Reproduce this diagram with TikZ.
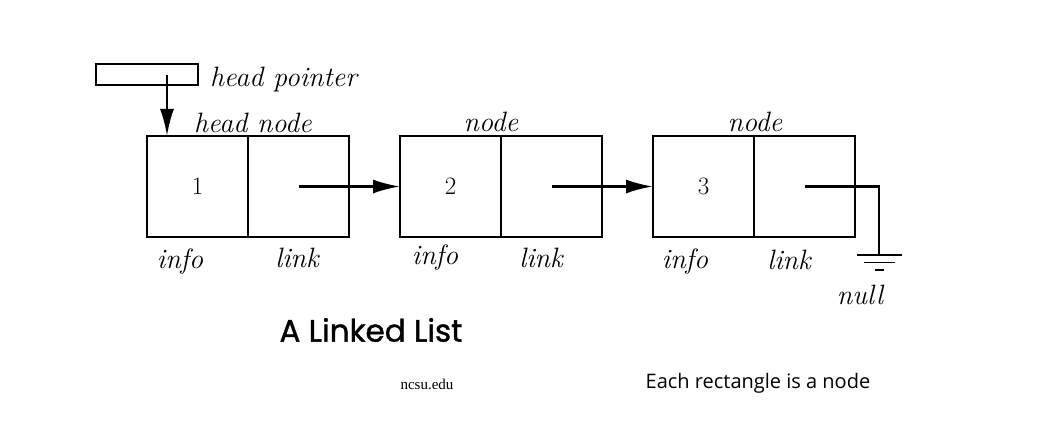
\documentclass[tikz,border=0pt]{standalone}
\usepackage{fontspec}
\newfontfamily\titlefont{Poppins}[FakeBold=1.2]
\newfontfamily\notefont{Open Sans}
\newfontfamily\srcfont{Liberation Serif}
\usepackage{tikz}
\usetikzlibrary{positioning, arrows.meta}

\tikzset{
  cell/.style={draw, line width=1.1pt, minimum width=101pt, minimum height=101pt, inner sep=0pt, outer sep=0pt, font=\fontsize{25}{25}\selectfont},
  lbl/.style={font=\fontsize{28}{28}\selectfont\itshape, inner sep=0pt},
  ptr/.style={line width=2.4pt, -{Latex[length=27pt,width=14pt]}},
  gndline/.style={line width=1.3pt},
}

\begin{document}
\begin{tikzpicture}[x=1pt, y=-1pt]
  \useasboundingbox (0,0) rectangle (1047,433);

  % head pointer
  \node[draw, line width=1.1pt, minimum width=102pt, minimum height=21pt, inner sep=0pt] (hptr) at (147,74.5) {};
  \node[lbl, anchor=west] (hptrlbl) at (210,80) {head pointer};

  % the three nodes
  \node[cell] (n1info) at (197.5,186.5) {1};
  \node[cell, right=0pt of n1info] (n1link) {};
  \node[cell, right=51pt of n1link] (n2info) {2};
  \node[cell, right=0pt of n2info] (n2link) {};
  \node[cell, right=51pt of n2link] (n3info) {3};
  \node[cell, right=0pt of n3info] (n3link) {};

  \node[lbl] (hnode) at (253,123) {head node};
  \node[lbl] (node2) at (491,122) {node};
  \node[lbl] (node3) at (755,122) {node};

  \node[lbl] (info1) at (180,261) {info};
  \node[lbl] (link1) at (297,258) {link};
  \node[lbl] (info2) at (435,257) {info};
  \node[lbl] (link2) at (541,258) {link};
  \node[lbl] (info3) at (685,261) {info};
  \node[lbl] (link3) at (789,260) {link};

  % links
  \coordinate (hstart) at (167,75);
  \draw[ptr] (hstart) -- (hstart |- n1info.north);
  \draw[ptr] (n1link.center) -- (n2info.west);
  \draw[ptr] (n2link.center) -- (n3info.west);

  % null
  \coordinate (gnd) at (879,255);
  \draw[line width=2.2pt] (n3link.center) -| (gnd);
  \draw[gndline] ([xshift=-22pt]gnd) -- ([xshift=23pt]gnd);
  \draw[gndline] ([xshift=-15pt,yshift=-7.5pt]gnd) -- ([xshift=16pt,yshift=-7.5pt]gnd);
  \draw[gndline] ([xshift=-4pt,yshift=-15pt]gnd) -- ([xshift=5pt,yshift=-15pt]gnd);
  \node[lbl] (null) at (860,295) {null};

  % captions
  \node[font=\titlefont\fontsize{31}{31}\selectfont, inner sep=0pt] (title) at (371,330) {A Linked List};
  \node[font=\srcfont\fontsize{15}{15}\selectfont, inner sep=0pt] (src) at (427,384) {ncsu.edu};
  \node[font=\notefont\fontsize{20}{20}\selectfont, inner sep=0pt] (note) at (758,383) {Each rectangle is a node};
\end{tikzpicture}
\end{document}
